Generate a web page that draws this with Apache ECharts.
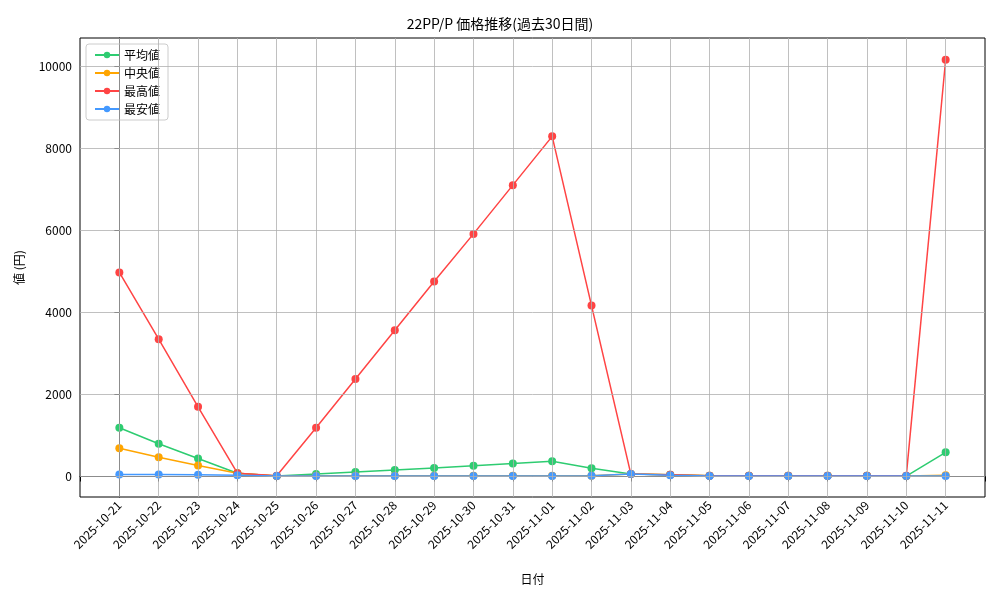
<!DOCTYPE html>
<html><head><meta charset="utf-8">
<script src="https://cdn.jsdelivr.net/npm/echarts@6/dist/echarts.min.js"></script>
<style>html,body{margin:0;background:#fff}#c{width:1000px;height:600px}</style>
</head><body><div id="c"></div>
<script>
const dates = ['2025-10-21','2025-10-22','2025-10-23','2025-10-24','2025-10-25','2025-10-26','2025-10-27','2025-10-28','2025-10-29','2025-10-30','2025-10-31','2025-11-01','2025-11-02','2025-11-03','2025-11-04','2025-11-05','2025-11-06','2025-11-07','2025-11-08','2025-11-09','2025-11-10','2025-11-11']
const avgVals = [1190,800,440,80,10,60,110,160,210,260,320,370,200,60,40,20,20,20,20,20,10,590]
const medVals = [690,470,270,80,10,20,20,20,20,20,20,20,20,60,40,20,20,20,20,20,10,30]
const maxVals = [4980,3350,1700,80,20,1190,2380,3570,4760,5920,7110,8300,4170,60,40,20,20,20,20,20,20,10170]
const minVals = [50,50,40,30,10,10,10,10,10,10,10,10,20,60,30,10,10,10,10,10,10,10]
const yTicks = [0,2000,4000,6000,8000,10000]
const names = ['平均値','中央値','最高値','最安値']
const colors = ['#2ecc71','#ffa500','#ff4444','#4499ff']

const font = 'Noto Sans CJK JP'
const chart = echarts.init(document.getElementById('c'))
const series = [avgVals, medVals, maxVals, minVals].map((vals, i) => ({
  name: names[i], type: 'line', data: vals.map((v, j) => [j, v]),
  symbol: 'circle', symbolSize: 8, lineStyle: {width: 1.5}, color: colors[i], z: 3
}))
// grid lines drawn as markLines so they sit on the labelled ticks only
series[0].markLine = {
  silent: true, symbol: 'none', label: {show: false}, animation: false,
  lineStyle: {color: '#b0b0b0', type: 'solid', width: 0.8},
  data: yTicks.map(v => ({yAxis: v})).concat(dates.map((d, j) => ({xAxis: j})))
}
chart.setOption({
  animation: false,
  textStyle: {fontFamily: font},
  title: {text: '22PP/P 価格推移(過去30日間)', left: 'center', top: 12,
    textStyle: {fontSize: 14, fontWeight: 'normal', color: '#000', fontFamily: font}},
  legend: {orient: 'vertical', left: 86, top: 44, itemGap: 6, itemWidth: 24, itemHeight: 8,
    borderColor: '#ccc', borderWidth: 1, borderRadius: 3, padding: [5, 8],
    textStyle: {fontSize: 12, color: '#000'}},
  grid: {left: 80, right: 15, top: 38, bottom: 103, show: true, borderColor: '#000', borderWidth: 1},
  xAxis: {type: 'value', min: -1, max: 22, interval: 1, name: '日付', nameLocation: 'middle', nameGap: 76,
    nameTextStyle: {color: '#000', fontSize: 12},
    axisLine: {lineStyle: {color: '#000'}}, splitLine: {show: false},
    axisTick: {lineStyle: {color: '#000'}},
    axisLabel: {rotate: 45, color: '#000', fontSize: 12, margin: 6,
      formatter: v => dates[v] || ''}},
  yAxis: {type: 'value', min: -500, max: 10700, name: '値 (円)', nameLocation: 'middle', nameGap: 55,
    nameTextStyle: {color: '#000', fontSize: 12},
    axisLine: {show: true, lineStyle: {color: '#000'}}, splitLine: {show: false},
    axisTick: {show: true, customValues: yTicks, lineStyle: {color: '#000'}},
    axisLabel: {customValues: yTicks, color: '#000', fontSize: 12, formatter: v => String(v)}},
  series: series
})
</script></body></html>
